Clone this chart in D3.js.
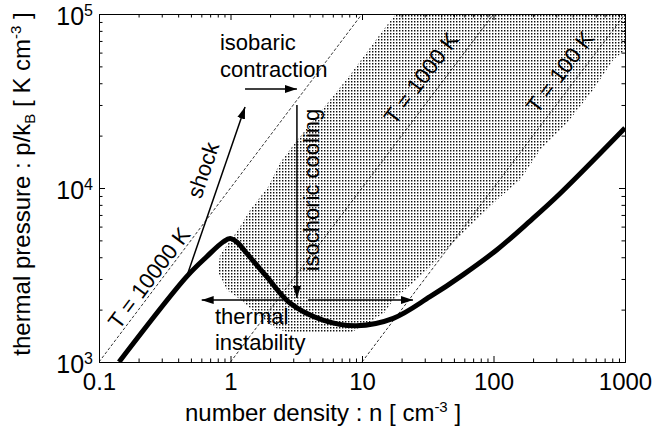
<!DOCTYPE html>
<html><head><meta charset="utf-8">
<script src="https://cdn.jsdelivr.net/npm/d3@7"></script>
<style>
body{margin:0;background:#fff;}
svg text{font-family:"Liberation Sans",Arial,Helvetica,sans-serif;fill:#000;}
</style></head><body>
<svg id="chart" width="663" height="436"></svg>
<script>
// ---- data ----
const xTicks = [0.1, 1, 10, 100, 1000];
const xTickLabels = ["0.1", "1", "10", "100", "1000"];
const yTicks = [1e3, 1e4, 1e5];
const yTickExponents = ["3", "4", "5"];

// thermal equilibrium curve (n [cm^-3], p/k [K cm^-3])
const curveN = [0.142, 0.464, 0.659, 0.882, 0.995, 1.146, 1.327, 1.885, 2.83, 5.05, 9.1, 17.3, 32.9, 58.9, 105.7, 189.5, 321, 1000];
const curveP = [1000, 3093, 4027, 4911, 5120, 4808, 4217, 3093, 2183, 1742, 1617, 1782, 2372, 3180, 4404, 6457, 9300, 22130];

// isotherms
const isothermT = [10000, 1000, 100];
const isothermLabels = ["T = 10000 K", "T = 1000 K", "T = 100 K"];
const isothermLabelN = [0.24, 28.1, 320];
const isothermLabelP = [3040, 42850, 46400];

// stippled region outline
const stippleN = [18.1, 1000, 1000, 811, 571, 362, 226, 159, 106, 58.6, 32.9, 24.4, 17.2, 15.0, 11.5, 8.11, 2.83, 2.18, 1.53, 1.12, 0.94, 0.803, 0.832, 1.14, 1.41, 1.93, 2.38, 3.09, 5.71, 8.11, 14.5];
const stippleP = [100000, 100000, 62100, 54400, 36550, 23650, 16520, 11120, 8530, 5510, 3515, 2845, 2270, 1937, 1698, 1468, 1468, 1567, 1937, 2366, 2594, 3290, 4121, 5737, 7482, 10130, 13930, 18150, 32060, 44580, 80900];

// arrows: shock, isobaric contraction, isochoric cooling, thermal instability (left, right)
const arrowFromN = [0.464, 1.29, 3.2, 2.51, 3.88];
const arrowFromP = [3093, 37060, 29990, 2270, 2270];
const arrowToN   = [1.29, 3.2, 3.2, 0.604, 24.4];
const arrowToP   = [29240, 37060, 2333, 2270, 2270];

// ---- chart ----
const svg = d3.select("#chart");
const FONT = 22;      // annotation text
const AXFONT = 24;    // axis text
const x = d3.scaleLog().domain([0.1, 1000]).range([99, 625]);
const y = d3.scaleLog().domain([1e3, 1e5]).range([362, 14]);
const [x0, x1] = x.range();
const [y0, y1] = y.range();

const defs = svg.append("defs");
defs.append("clipPath").attr("id", "plotclip").append("rect")
  .attr("x", x0).attr("y", y1).attr("width", x1 - x0).attr("height", y0 - y1);
const pat = defs.append("pattern").attr("id", "dots").attr("patternUnits", "userSpaceOnUse")
  .attr("x", 0).attr("y", 0).attr("width", 3).attr("height", 3);
pat.append("rect").attr("x", 0).attr("y", 0).attr("width", 1.4).attr("height", 1.5).attr("fill", "#111");
defs.append("marker").attr("id", "ah").attr("viewBox", "0 0 12 8")
  .attr("refX", 12).attr("refY", 4).attr("markerWidth", 12).attr("markerHeight", 8)
  .attr("markerUnits", "userSpaceOnUse").attr("orient", "auto")
  .append("path").attr("d", "M0,0L12,4L0,8Z").attr("fill", "#000");

const plot = svg.append("g").attr("clip-path", "url(#plotclip)");

// stipple
plot.append("path")
  .attr("d", d3.line().x(i => x(stippleN[i])).y(i => y(stippleP[i])).curve(d3.curveLinearClosed)(d3.range(stippleN.length)))
  .attr("fill", "url(#dots)").attr("stroke", "none");

// isotherms
plot.selectAll("line.iso").data(isothermT).join("line").attr("class", "iso")
  .attr("x1", T => x(1e3 / T)).attr("y1", y(1e3))
  .attr("x2", T => x(1e5 / T)).attr("y2", y(1e5))
  .attr("stroke", "#000").attr("stroke-width", 0.8).attr("stroke-dasharray", "3,2");

// isotherm labels
const isoAngle = Math.atan2(y(1e5) - y(1e3), x(1e5 / 1000) - x(1)) * 180 / Math.PI;
svg.selectAll("text.isolab").data(isothermLabels).join("text").attr("class", "isolab")
  .attr("transform", (d, i) => `translate(${x(isothermLabelN[i])},${y(isothermLabelP[i])}) rotate(${isoAngle})`)
  .attr("text-anchor", "middle").attr("dy", "0.35em").attr("font-size", FONT).text(d => d);

// equilibrium curve
plot.append("path")
  .attr("d", d3.line().x(i => x(curveN[i])).y(i => y(curveP[i])).curve(d3.curveCatmullRom.alpha(0.5))(d3.range(curveN.length)))
  .attr("fill", "none").attr("stroke", "#000").attr("stroke-width", 5).attr("stroke-linejoin", "round");

// arrows
svg.selectAll("line.arrow").data(arrowFromN).join("line").attr("class", "arrow")
  .attr("x1", (d, i) => x(arrowFromN[i])).attr("y1", (d, i) => y(arrowFromP[i]))
  .attr("x2", (d, i) => x(arrowToN[i])).attr("y2", (d, i) => y(arrowToP[i]))
  .attr("stroke", "#000").attr("stroke-width", 1.5).attr("marker-end", "url(#ah)");

// annotations
const ann = svg.append("g").attr("font-size", FONT);
ann.append("text").attr("x", x(0.832)).attr("y", y(62000)).text("isobaric");
ann.append("text").attr("x", x(0.832)).attr("y", y(62000) + 27).text("contraction");
const shockAngle = Math.atan2(y(29240) - y(3093), x(1.29) - x(0.464)) * 180 / Math.PI;
ann.append("text").attr("transform", `translate(${x(0.618)},${y(12680)}) rotate(${shockAngle})`)
  .attr("text-anchor", "middle").attr("dy", "0.35em").text("shock");
ann.append("text").attr("transform", `translate(${x(4.09)},${y(9740)}) rotate(-90)`)
  .attr("text-anchor", "middle").attr("dy", "0.35em").text("isochoric cooling");
ann.append("text").attr("x", x(0.762)).attr("y", y(1610) - 2).text("thermal");
ann.append("text").attr("x", x(0.762)).attr("y", y(1610) + 24).text("instability");

// axes
const minorX = x.ticks().filter(v => !xTicks.some(t => Math.abs(t - v) / t < 1e-6));
const minorY = y.ticks().filter(v => !yTicks.some(t => Math.abs(t - v) / t < 1e-6));
function axisG(axis, tx, ty) {
  const g = svg.append("g").attr("transform", `translate(${tx},${ty})`).call(axis);
  g.select(".domain").attr("stroke", "#000");
  g.selectAll(".tick line").attr("stroke", "#000");
  return g;
}
const bx = axisG(d3.axisBottom(x).tickValues(xTicks).tickSize(-6).tickSizeOuter(0).tickPadding(11)
  .tickFormat((d, i) => xTickLabels[i]), 0, y0);
bx.selectAll("text").attr("font-size", AXFONT).attr("font-family", '"Liberation Sans",Arial,sans-serif').attr("fill", "#000");
axisG(d3.axisBottom(x).tickValues(minorX).tickSize(-3.5).tickSizeOuter(0).tickFormat(""), 0, y0);
axisG(d3.axisTop(x).tickValues(xTicks).tickSize(-6).tickSizeOuter(0).tickFormat(""), 0, y1);
axisG(d3.axisTop(x).tickValues(minorX).tickSize(-3.5).tickSizeOuter(0).tickFormat(""), 0, y1);
axisG(d3.axisLeft(y).tickValues(yTicks).tickSize(-6).tickSizeOuter(0).tickFormat(""), x0, 0);
axisG(d3.axisLeft(y).tickValues(minorY).tickSize(-3.5).tickSizeOuter(0).tickFormat(""), x0, 0);
axisG(d3.axisRight(y).tickValues(yTicks).tickSize(-6).tickSizeOuter(0).tickFormat(""), x1, 0);
axisG(d3.axisRight(y).tickValues(minorY).tickSize(-3.5).tickSizeOuter(0).tickFormat(""), x1, 0);

// y tick labels 10^k
const ylab = svg.append("g").attr("font-size", AXFONT + 1).attr("text-anchor", "end");
yTicks.forEach((v, i) => {
  const t = ylab.append("text").attr("x", x0 - 6).attr("y", y(v) + 11);
  t.append("tspan").text("10");
  t.append("tspan").attr("font-size", 16).attr("dy", -9).text(yTickExponents[i]);
});

// axis titles
const xt = svg.append("text").attr("x", 323).attr("y", 421).attr("text-anchor", "middle").attr("font-size", AXFONT);
xt.append("tspan").text("number density : n [ cm");
xt.append("tspan").attr("font-size", 15).attr("dy", -9).text("-3");
xt.append("tspan").attr("dy", 9).text(" ]");

const yt = svg.append("text").attr("transform", `translate(30,184) rotate(-90)`)
  .attr("text-anchor", "middle").attr("font-size", AXFONT);
yt.append("tspan").text("thermal pressure : p/k");
yt.append("tspan").attr("font-size", 15).attr("dy", 5).text("B");
yt.append("tspan").attr("dy", -5).text(" [ K cm");
yt.append("tspan").attr("font-size", 15).attr("dy", -9).text("-3");
yt.append("tspan").attr("dy", 9).text(" ]");
</script>
</body></html>
